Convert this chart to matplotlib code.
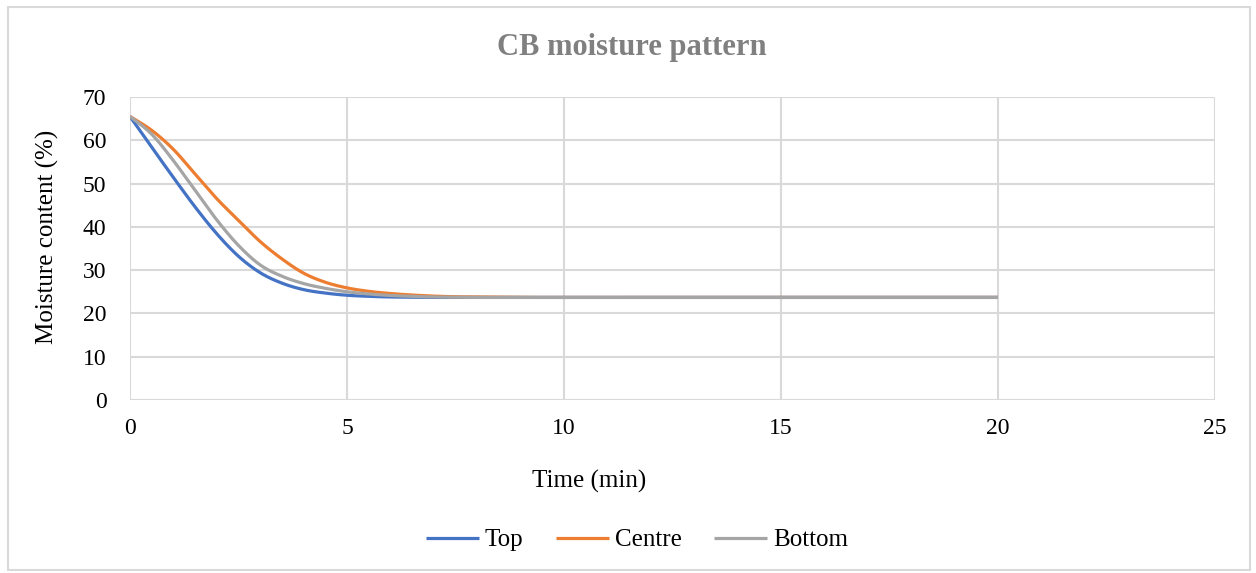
import numpy as np
import matplotlib
matplotlib.use("Agg")
import matplotlib.pyplot as plt
from matplotlib.patches import Rectangle

# Moisture content (%) over drying time (min)
time_min = [0.0, 0.5, 1.0, 1.5, 2.0, 2.5, 3.0, 3.5, 4.0, 4.5, 5.0, 5.5, 6.0,
            6.5, 7.0, 7.5, 8.0, 8.5, 9.0, 10.0, 12.0, 14.0, 16.0, 18.0, 20.0]
top = [65.5, 58.4, 51.4, 44.6, 38.4, 33.2, 29.4, 27.0, 25.5, 24.7, 24.2, 23.95,
       23.8, 23.75, 23.7, 23.7, 23.7, 23.7, 23.7, 23.7, 23.7, 23.7, 23.7, 23.7, 23.7]
centre = [65.5, 62.3, 57.9, 52.2, 46.5, 41.5, 36.6, 32.6, 29.3, 27.2, 25.9, 25.1,
          24.6, 24.25, 24.0, 23.85, 23.8, 23.75, 23.7, 23.7, 23.7, 23.7, 23.7, 23.7, 23.7]
bottom = [65.5, 61.4, 55.3, 48.4, 41.6, 35.7, 31.2, 28.6, 26.9, 25.8, 25.0, 24.5,
          24.15, 23.95, 23.8, 23.75, 23.7, 23.7, 23.7, 23.7, 23.7, 23.7, 23.7, 23.7, 23.7]

series_names = ["Top", "Centre", "Bottom"]
series_colors = ["#4472C4", "#ED7D31", "#A5A5A5"]
x_ticks = [0, 5, 10, 15, 20, 25]
y_ticks = [0, 10, 20, 30, 40, 50, 60, 70]


def smooth_curve(x, y, steps=30):
    """Bezier smoothing through every point (spreadsheet-style smoothed line)."""
    x = np.asarray(x, float)
    y = np.asarray(y, float)
    px = np.concatenate([[x[0]], x, [x[-1]]])
    py = np.concatenate([[y[0]], y, [y[-1]]])
    xs, ys = [], []
    t = np.linspace(0, 1, steps, endpoint=False)
    for i in range(1, len(px) - 2):
        p0 = np.array([px[i], py[i]])
        p3 = np.array([px[i + 1], py[i + 1]])
        c1 = p0 + (p3 - np.array([px[i - 1], py[i - 1]])) / 6.0
        c2 = p3 - (np.array([px[i + 2], py[i + 2]]) - p0) / 6.0
        b = ((1 - t) ** 3)[:, None] * p0 + (3 * (1 - t) ** 2 * t)[:, None] * c1 \
            + (3 * (1 - t) * t ** 2)[:, None] * c2 + (t ** 3)[:, None] * p3
        xs.append(b[:, 0])
        ys.append(b[:, 1])
    xs.append([x[-1]])
    ys.append([y[-1]])
    return np.concatenate(xs), np.concatenate(ys)


plt.rcParams["font.family"] = ["Liberation Serif", "DejaVu Serif"]

W, H = 1256, 573
fig = plt.figure(figsize=(W / 100, H / 100), dpi=100)
fig.patch.set_facecolor("white")

# chart frame
fig.patches.append(Rectangle((8 / W, 1 - 570 / H), (1250 - 8) / W, (570 - 7) / H,
                             transform=fig.transFigure, fill=False,
                             edgecolor="#d9d9d9", linewidth=1.5))

ax = fig.add_axes([130 / W, 1 - 400 / H, (1215 - 130) / W, (400 - 97) / H])

grid_color = "#d9d9d9"
for v in x_ticks:
    ax.axvline(v, color=grid_color, linewidth=1.5, zorder=0)
for v in y_ticks:
    ax.axhline(v, color=grid_color, linewidth=1.5, zorder=0)

for name, values, color in zip(series_names, [top, centre, bottom], series_colors):
    sx, sy = smooth_curve(time_min, values)
    ax.plot(sx, sy, color=color, linewidth=2.3, label=name,
            solid_capstyle="butt", zorder=3)

ax.set_xlim(0, 25)
ax.set_ylim(0, 70)
ax.set_xticks(x_ticks)
ax.set_yticks(y_ticks)
ax.tick_params(axis="both", length=0, labelsize=17, colors="#000000")
ax.tick_params(axis="y", pad=17)
ax.tick_params(axis="x", pad=13)
for s in ax.spines.values():
    s.set_visible(False)
ax.set_facecolor("white")

fig.text(632 / W, 1 - 47 / H, "CB moisture pattern", ha="center", va="center",
         fontsize=22, fontweight="bold", color="#808080")
fig.text(589 / W, 1 - 481 / H, "Time (min)", ha="center", va="center",
         fontsize=18, color="#000000")
fig.text(47 / W, 1 - 237 / H, "Moisture content (%)", ha="center", va="center",
         rotation=90, fontsize=18, color="#000000")

handles, labels = ax.get_legend_handles_labels()
fig.legend(handles, labels, loc="center", bbox_to_anchor=(637 / W, 1 - 540 / H),
           ncol=3, frameon=False, fontsize=18, handlelength=2.1,
           handletextpad=0.25, columnspacing=1.3)

fig.savefig("out.png", dpi=100, facecolor="white")
